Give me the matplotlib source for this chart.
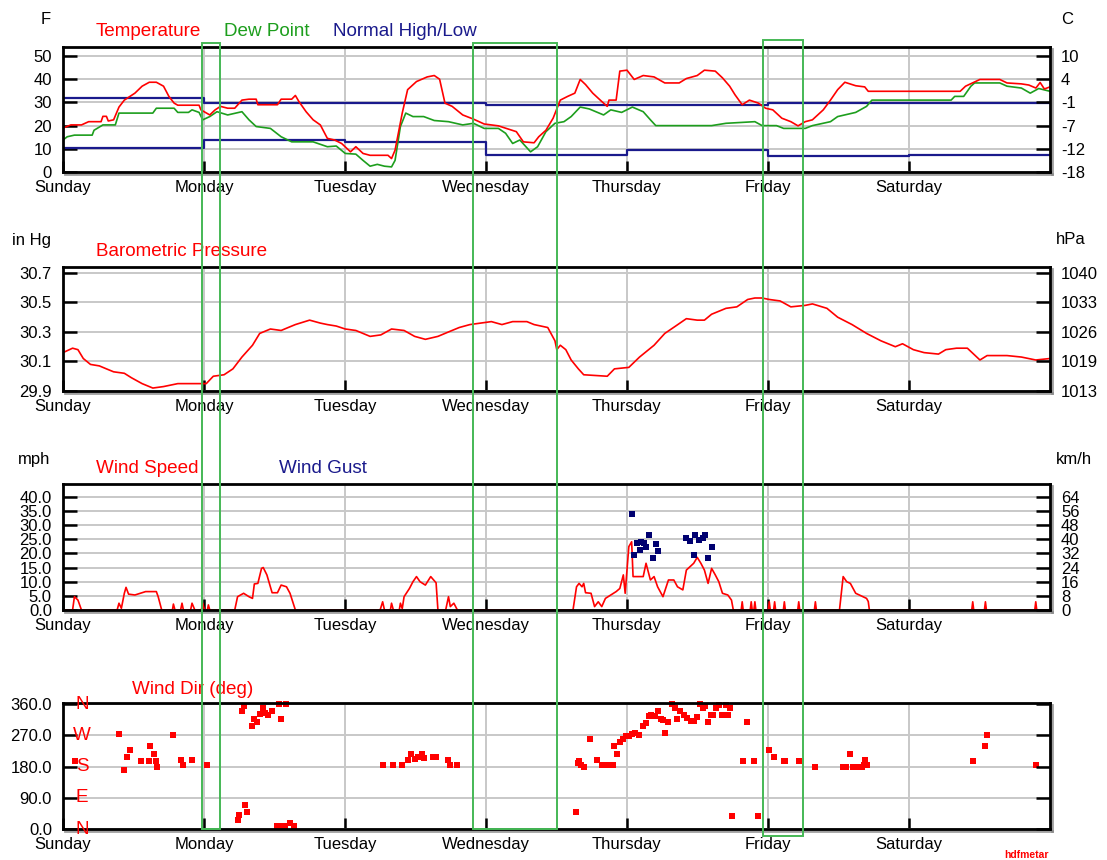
import numpy as np
import matplotlib.pyplot as plt
from matplotlib.patches import Rectangle
from matplotlib.transforms import blended_transform_factory
import matplotlib.patheffects as pe

plt.rcParams['font.family'] = ['Liberation Sans', 'DejaVu Sans']

day_names = ["Sunday", "Monday", "Tuesday", "Wednesday", "Thursday", "Friday", "Saturday"]

# temperature / dew point (F), x in days from Sunday 00:00
temp_day = [0.0, 0.056, 0.131, 0.182, 0.27, 0.283, 0.308, 0.321, 0.359, 0.397, 0.435, 0.51, 0.561,
            0.612, 0.662, 0.713, 0.751, 0.788, 0.814, 0.965, 0.978, 1.041, 1.079, 1.117, 1.168, 1.218,
            1.269, 1.319, 1.37, 1.382, 1.521, 1.547, 1.622, 1.648, 1.673, 1.724, 1.774, 1.825, 1.875,
            1.926, 1.976, 2.039, 2.077, 2.128, 2.178, 2.305, 2.33, 2.355, 2.406, 2.444, 2.507, 2.583,
            2.633, 2.671, 2.709, 2.76, 2.835, 2.911, 2.987, 3.088, 3.164, 3.215, 3.265, 3.341, 3.374,
            3.425, 3.476, 3.527, 3.579, 3.63, 3.668, 3.706, 3.757, 3.821, 3.86, 3.872, 3.923, 3.949,
            4.0, 4.051, 4.115, 4.192, 4.268, 4.37, 4.421, 4.498, 4.549, 4.626, 4.677, 4.728, 4.766,
            4.817, 4.868, 4.932, 4.983, 5.034, 5.098, 5.162, 5.213, 5.264, 5.315, 5.392, 5.443, 5.494,
            5.545, 5.622, 5.686, 5.711, 6.363, 6.401, 6.503, 6.644, 6.695, 6.797, 6.85, 6.9, 6.93,
            6.96, 7.0]
temp_f = [19.0, 20.3, 20.3, 21.7, 21.7, 24.0, 24.0, 22.0, 22.5, 28.0, 31.0, 34.0, 37.0,
          38.7, 38.7, 37.0, 32.6, 29.7, 28.8, 28.8, 26.8, 24.6, 26.8, 28.3, 27.5, 27.5,
          31.0, 31.4, 31.4, 29.0, 29.0, 31.4, 31.4, 33.0, 30.4, 26.0, 22.5, 20.3, 14.5,
          13.8, 12.3, 8.7, 10.9, 8.0, 7.2, 7.2, 5.8, 9.4, 25.4, 35.5, 39.0, 41.0,
          41.6, 40.0, 29.7, 28.3, 24.6, 22.8, 20.7, 19.9, 18.4, 17.4, 13.0, 12.6, 15.2,
          18.0, 23.2, 31.0, 32.6, 34.0, 39.9, 37.7, 34.0, 30.4, 28.3, 31.0, 31.0, 43.5,
          43.9, 39.9, 41.6, 41.0, 38.4, 38.4, 40.3, 41.6, 43.9, 43.5, 40.6, 37.0, 33.3,
          29.0, 31.0, 29.7, 27.5, 26.8, 23.2, 21.7, 19.9, 21.7, 22.5, 26.8, 31.0, 35.5,
          38.7, 37.2, 36.7, 34.8, 34.8, 37.0, 39.9, 39.9, 38.4, 38.0, 37.5, 36.2, 38.6,
          35.8, 36.7]

dew_day = [0.0, 0.03, 0.081, 0.207, 0.22, 0.283, 0.371, 0.397, 0.637, 0.662, 0.788, 0.814, 0.89,
           0.915, 0.965, 0.991, 1.041, 1.092, 1.168, 1.269, 1.319, 1.37, 1.471, 1.547, 1.622, 1.774,
           1.875, 1.938, 2.002, 2.077, 2.128, 2.178, 2.229, 2.28, 2.33, 2.355, 2.393, 2.431, 2.482,
           2.558, 2.633, 2.734, 2.835, 2.911, 2.987, 3.088, 3.139, 3.189, 3.24, 3.316, 3.366, 3.425,
           3.489, 3.553, 3.604, 3.668, 3.732, 3.834, 3.885, 3.962, 4.038, 4.115, 4.166, 4.204, 4.6,
           4.702, 4.907, 4.958, 5.06, 5.111, 5.264, 5.315, 5.443, 5.494, 5.622, 5.699, 5.737, 6.299,
           6.324, 6.388, 6.439, 6.465, 6.644, 6.695, 6.797, 6.86, 6.92, 7.0]
dew_f = [13.8, 15.2, 15.9, 15.9, 18.0, 20.3, 20.3, 25.4, 25.4, 27.5, 27.5, 25.7, 25.7,
         26.8, 25.7, 22.5, 23.9, 26.0, 24.6, 26.0, 22.5, 19.6, 18.8, 15.2, 13.0, 13.0,
         10.9, 11.2, 8.0, 7.7, 5.0, 2.5, 3.3, 2.5, 2.2, 5.0, 19.6, 25.4, 23.9,
         23.9, 22.2, 21.7, 20.3, 21.0, 18.8, 18.8, 16.7, 12.3, 13.8, 8.7, 10.9, 17.4,
         21.0, 21.7, 23.9, 28.0, 27.2, 24.6, 26.8, 25.7, 28.0, 26.0, 22.5, 20.0, 20.0,
         21.0, 21.7, 20.0, 20.0, 18.8, 18.8, 20.0, 21.7, 23.9, 25.7, 28.3, 31.0, 31.0,
         32.6, 32.6, 37.0, 38.4, 38.4, 37.0, 36.2, 34.0, 36.0, 34.8]

# normal high / low per day (F)
normal_high = [31.9, 29.7, 29.7, 28.8, 28.8, 29.7, 29.7]
normal_low = [10.4, 13.8, 12.8, 7.5, 9.7, 7.0, 7.5]

# barometric pressure (in Hg)
pres_day = [0.0, 0.068, 0.106, 0.144, 0.195, 0.258, 0.308, 0.359, 0.435, 0.485, 0.561, 0.637, 0.713,
            0.814, 0.965, 1.016, 1.066, 1.142, 1.205, 1.269, 1.344, 1.395, 1.471, 1.547, 1.597, 1.648,
            1.749, 1.825, 1.875, 1.938, 2.002, 2.077, 2.178, 2.254, 2.33, 2.419, 2.494, 2.57, 2.659,
            2.734, 2.81, 2.886, 2.962, 3.038, 3.113, 3.189, 3.29, 3.341, 3.438, 3.489, 3.502, 3.527,
            3.566, 3.604, 3.655, 3.693, 3.86, 3.911, 4.013, 4.089, 4.192, 4.268, 4.345, 4.421, 4.498,
            4.549, 4.6, 4.702, 4.779, 4.856, 4.907, 4.958, 5.009, 5.086, 5.162, 5.264, 5.315, 5.418,
            5.494, 5.596, 5.699, 5.801, 5.903, 5.954, 6.031, 6.107, 6.209, 6.261, 6.337, 6.414, 6.503,
            6.554, 6.695, 6.797, 6.899, 7.0]
pres_inhg = [30.16, 30.19, 30.18, 30.12, 30.08, 30.07, 30.05, 30.03, 30.02, 29.99, 29.95, 29.92, 29.93,
             29.95, 29.95, 29.95, 30.0, 30.01, 30.05, 30.13, 30.21, 30.29, 30.32, 30.31, 30.33, 30.35,
             30.38, 30.36, 30.35, 30.34, 30.32, 30.31, 30.27, 30.28, 30.32, 30.31, 30.27, 30.25, 30.27,
             30.3, 30.33, 30.35, 30.36, 30.37, 30.35, 30.37, 30.37, 30.35, 30.33, 30.24, 30.18, 30.21,
             30.18, 30.11, 30.05, 30.01, 30.0, 30.05, 30.06, 30.13, 30.21, 30.29, 30.34, 30.39, 30.38,
             30.38, 30.42, 30.46, 30.47, 30.52, 30.53, 30.53, 30.52, 30.51, 30.47, 30.48, 30.49, 30.46,
             30.4, 30.35, 30.29, 30.24, 30.2, 30.22, 30.18, 30.16, 30.15, 30.18, 30.19, 30.19, 30.11,
             30.14, 30.14, 30.13, 30.11, 30.12]

# wind speed (mph)
wind_day = [0.0, 0.068, 0.081, 0.106, 0.131, 0.384, 0.397, 0.414, 0.435, 0.447, 0.465, 0.51, 0.586,
            0.662, 0.675, 0.7, 0.776, 0.783, 0.794, 0.834, 0.844, 0.854, 0.905, 0.915, 0.935, 0.981,
            0.991, 1.003, 1.024, 1.031, 1.041, 1.218, 1.238, 1.281, 1.319, 1.344, 1.357, 1.382, 1.408,
            1.42, 1.446, 1.483, 1.521, 1.547, 1.585, 1.61, 1.648, 2.249, 2.267, 2.28, 2.322, 2.33,
            2.343, 2.385, 2.393, 2.406, 2.419, 2.457, 2.482, 2.507, 2.532, 2.57, 2.608, 2.646, 2.659,
            2.714, 2.734, 2.747, 2.772, 2.797, 3.617, 3.642, 3.66, 3.681, 3.693, 3.706, 3.745, 3.77,
            3.796, 3.821, 3.847, 3.885, 3.923, 3.949, 3.974, 3.987, 4.013, 4.033, 4.043, 4.115, 4.135,
            4.166, 4.192, 4.217, 4.255, 4.294, 4.332, 4.358, 4.396, 4.421, 4.447, 4.473, 4.498, 4.524,
            4.549, 4.575, 4.6, 4.626, 4.651, 4.677, 4.715, 4.741, 4.754, 4.81, 4.817, 4.824, 4.874,
            4.881, 4.888, 4.9, 4.907, 4.914, 5.002, 5.009, 5.016, 5.04, 5.047, 5.054, 5.109, 5.116,
            5.123, 5.211, 5.218, 5.225, 5.329, 5.336, 5.343, 5.507, 5.533, 5.558, 5.584, 5.622, 5.673,
            5.699, 5.711, 5.719, 6.445, 6.452, 6.459, 6.535, 6.542, 6.549, 6.892, 6.899, 6.906, 7.0]
wind_mph = [0, 0, 4.7, 3.5, 0, 0, 2.4, 0.6, 5.9, 8.0, 5.6, 5.3, 6.5,
            6.5, 4.7, 0, 0, 2.1, 0, 0, 2.4, 0, 0, 2.4, 0, 0,
            2.4, 0, 0, 1.8, 0, 0, 4.7, 5.9, 4.7, 4.1, 9.2, 9.4, 14.7,
            15.0, 12.4, 6.1, 6.1, 8.8, 8.2, 5.9, 0, 0, 2.9, 0, 0, 2.4,
            0, 0, 2.4, 0.5, 4.7, 7.6, 10.0, 11.8, 10.0, 8.8, 11.8, 9.6, 0,
            0, 4.7, 1.2, 2.4, 0, 0, 8.2, 9.4, 8.2, 9.4, 6.1, 5.9, 1.2,
            2.9, 1.2, 4.1, 5.3, 6.5, 7.6, 12.4, 5.9, 22.4, 24.1, 11.8, 11.8, 16.5,
            10.6, 11.8, 8.2, 4.7, 10.6, 10.6, 8.2, 7.1, 14.1, 15.3, 16.5, 18.6, 16.5,
            14.1, 9.4, 14.7, 12.4, 10.0, 5.9, 5.3, 3.5, 0, 0, 2.9, 0, 0,
            2.9, 0, 0, 2.9, 0, 0, 2.9, 0, 0, 2.9, 0, 0, 2.9,
            0, 0, 2.9, 0, 0, 2.9, 0, 0, 11.8, 10.0, 9.4, 5.9, 4.7,
            4.1, 3.0, 0, 0, 2.9, 0, 0, 2.9, 0, 0, 2.9, 0, 0]

# wind gusts (mph)
gust_day = [4.033, 4.051, 4.069, 4.089, 4.102, 4.12, 4.135, 4.153, 4.186, 4.204, 4.217,
            4.421, 4.447, 4.473, 4.485, 4.511, 4.536, 4.554, 4.575, 4.605]
gust_mph = [33.8, 19.4, 23.8, 21.2, 24.1, 23.5, 22.4, 26.5, 18.2, 23.2, 20.9,
            25.3, 24.5, 19.4, 26.5, 24.7, 25.6, 26.5, 18.2, 22.1]

# wind direction (deg)
dir_day = [0.086, 0.397, 0.435, 0.452, 0.478, 0.553, 0.612, 0.617, 0.642, 0.657, 0.67, 0.783, 0.839,
           0.854, 0.915, 1.021, 1.238, 1.251, 1.289, 1.304, 1.269, 1.281, 1.339, 1.357, 1.377, 1.395,
           1.415, 1.433, 1.451, 1.483, 1.534, 1.547, 1.585, 1.521, 1.547, 1.572, 1.61, 1.635, 2.272,
           2.34, 2.401, 2.444, 2.469, 2.494, 2.52, 2.545, 2.557, 2.621, 2.646, 2.729, 2.747, 2.792,
           3.635, 3.65, 3.66, 3.676, 3.693, 3.739, 3.788, 3.821, 3.847, 3.872, 3.898, 3.905, 3.931,
           3.949, 3.974, 3.992, 4.013, 4.038, 4.059, 4.084, 4.115, 4.133, 4.153, 4.171, 4.197, 4.217,
           4.238, 4.255, 4.268, 4.289, 4.319, 4.34, 4.358, 4.375, 4.401, 4.427, 4.452, 4.478, 4.498,
           4.519, 4.536, 4.554, 4.575, 4.595, 4.613, 4.631, 4.651, 4.677, 4.702, 4.715, 4.733, 4.746,
           4.822, 4.848, 4.902, 4.927, 5.004, 5.042, 5.111, 5.124, 5.221, 5.336, 5.533, 5.551, 5.584,
           5.602, 5.648, 5.668, 5.681, 5.691, 5.704, 6.452, 6.542, 6.554, 6.904]
dir_deg = [197, 275, 171, 206, 228, 197, 197, 238, 217, 195, 180, 270, 198,
           185, 198, 185, 27, 39, 70, 49, 339, 353, 296, 317, 307, 331,
           348, 334, 329, 339, 360, 317, 360, 8, 8, 8, 17, 8, 185,
           185, 185, 200, 217, 202, 207, 217, 204, 207, 207, 198, 185, 185,
           49, 190, 195, 185, 180, 259, 198, 185, 185, 185, 185, 238, 217,
           250, 259, 269, 269, 275, 276, 272, 298, 305, 326, 329, 326, 339,
           317, 313, 276, 307, 360, 348, 317, 339, 329, 320, 310, 310, 324,
           360, 348, 355, 307, 329, 329, 350, 358, 329, 358, 329, 350, 38,
           197, 307, 197, 38, 228, 206, 197, 197, 197, 180, 180, 180, 217,
           180, 180, 180, 185, 198, 185, 197, 238, 270, 185]

# highlighted time windows (days)
highlight_spans = [(0.986, 1.113), (2.908, 3.504), (4.965, 5.248)]

RED = '#ff0000'
GREEN = '#1d9e1d'
NAVY = '#1a1a8c'
W, H = 1107, 860
TICK_FS = 12
TITLE_FS = 13.6


def box(top, bottom):
    return [63 / W, 1 - bottom / H, 987 / W, (bottom - top) / H]


def setup(ax, ylim, yticks, left_labels, right_labels):
    ax.set_xlim(0, 7)
    ax.set_ylim(ylim)
    ax.set_xticks(range(7), day_names)
    ax.set_yticks(yticks, left_labels)
    ax.grid(True, color='#c8c8c8', lw=1.4)
    ax.set_axisbelow(True)
    ax.tick_params(direction='in', length=10, width=1.8, labelsize=TICK_FS, pad=8)
    ax.tick_params(axis='x', length=8, pad=6)
    for s in ax.spines.values():
        s.set_linewidth(2)
    for k in ('right', 'bottom'):
        ax.spines[k].set_path_effects([pe.SimpleLineShadow(offset=(1.5, -1.5), shadow_color='#888888', alpha=0.8),
                                       pe.Normal()])
    tw = ax.twinx()
    tw.set_ylim(ylim)
    tw.set_yticks(yticks, right_labels)
    tw.tick_params(direction='in', length=10, width=1.8, labelsize=TICK_FS, pad=8)
    for s in tw.spines.values():
        s.set_visible(False)
    return tw


def ftext(x, y, s, **kw):
    kw.setdefault('fontsize', TICK_FS)
    kw.setdefault('va', 'center')
    fig.text(x / W, 1 - y / H, s, **kw)


fig = plt.figure(figsize=(11.07, 8.6), dpi=100)

# temperature panel
ax1 = fig.add_axes(box(47, 172))
setup(ax1, (0, 53.9), [0, 10, 20, 30, 40, 50], ['0', '10', '20', '30', '40', '50'],
      ['-18', '-12', '-7', '-1', '4', '10'])
steps = np.arange(8)
ax1.step(steps, normal_high + normal_high[-1:], where='post', color=NAVY, lw=1.6)
ax1.step(steps, normal_low + normal_low[-1:], where='post', color=NAVY, lw=1.6)
ax1.plot(dew_day, dew_f, color=GREEN, lw=1.2)
ax1.plot(temp_day, temp_f, color=RED, lw=1.2)
ftext(46, 20, 'F', ha='center')
ftext(1061, 20, 'C', ha='left')
ftext(96, 32, 'Temperature', color=RED, fontsize=TITLE_FS)
ftext(224, 32, 'Dew Point', color=GREEN, fontsize=TITLE_FS)
ftext(333, 32, 'Normal High/Low', color=NAVY, fontsize=TITLE_FS)

# pressure panel
ax2 = fig.add_axes(box(267, 391))
setup(ax2, (29.9, 30.74), [29.9, 30.1, 30.3, 30.5, 30.7], ['29.9', '30.1', '30.3', '30.5', '30.7'],
      ['1013', '1019', '1026', '1033', '1040'])
ax2.plot(pres_day, pres_inhg, color=RED, lw=1.2)
ftext(12, 240, 'in Hg')
ftext(1056, 240, 'hPa')
ftext(96, 251, 'Barometric Pressure', color=RED, fontsize=TITLE_FS)

# wind speed panel
ax3 = fig.add_axes(box(484, 610))
mph_ticks = np.arange(0, 41, 5)
setup(ax3, (0, 44.5), mph_ticks, ['%.1f' % v for v in mph_ticks],
      ['%d' % round(v * 1.609) for v in mph_ticks])
ax3.plot(wind_day, wind_mph, color=RED, lw=1.2)
ax3.plot(gust_day, gust_mph, 's', color='#000070', ms=4.5, mew=0)
ftext(18, 459, 'mph')
ftext(1056, 459, 'km/h')
ftext(96, 469, 'Wind Speed', color=RED, fontsize=TITLE_FS)
ftext(279, 469, 'Wind Gust', color=NAVY, fontsize=TITLE_FS)

# wind direction panel
ax4 = fig.add_axes(box(703, 829))
dir_ticks = [0, 90, 180, 270, 360]
setup(ax4, (0, 363), dir_ticks, ['%.1f' % v for v in dir_ticks], [''] * 5)
ax4.plot(dir_day, dir_deg, 's', color=RED, ms=4.8, mew=0, clip_on=False)
letter_tr = blended_transform_factory(ax4.transAxes, ax4.transData)
for v, letter in zip(dir_ticks, ['N', 'E', 'S', 'W', 'N']):
    ax4.text(0.0195, v, letter, transform=letter_tr, color=RED, fontsize=TITLE_FS,
             ha='center', va='center')
ftext(132, 689, 'Wind Dir (deg)', color=RED, fontsize=TITLE_FS)
ftext(1004, 855, 'hdfmetar', color=RED, fontsize=7.5, fontweight='bold')

# highlight rectangles spanning all panels
rect_tr = blended_transform_factory(ax1.transData, fig.transFigure)
rect_tops = [43, 43, 40]
rect_bottoms = [829, 829, 836]
for (d0, d1), t, b in zip(highlight_spans, rect_tops, rect_bottoms):
    fig.add_artist(Rectangle((d0, 1 - b / H), d1 - d0, (b - t) / H, transform=rect_tr,
                             fill=False, ec='#45b855', lw=1.4, zorder=5))

fig.savefig('out.png', dpi=100)
